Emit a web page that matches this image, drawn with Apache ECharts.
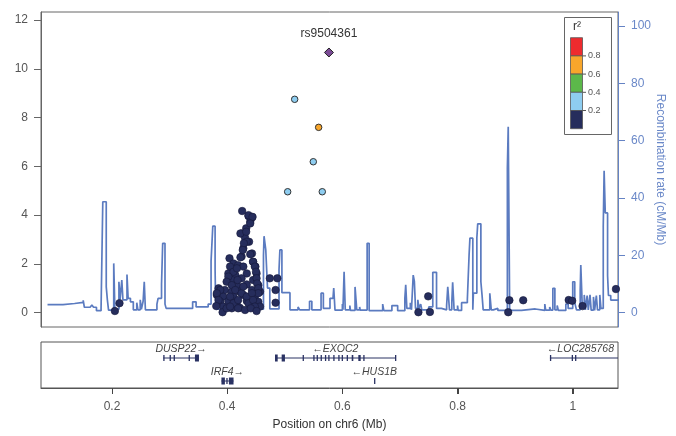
<!DOCTYPE html>
<html><head><meta charset="utf-8">
<script src="https://cdn.jsdelivr.net/npm/echarts@6/dist/echarts.min.js"></script>
<style>html,body{margin:0;padding:0;background:#fff}#c{width:676px;height:436px}</style>
</head><body><div id="c"></div><script>
const xTicks = [0.2, 0.4, 0.6, 0.8, 1.0];
const yTicks = [0, 2, 4, 6, 8, 10, 12];
const rTicks = [0, 20, 40, 60, 80, 100];
const legendBreaks = ['0.8', '0.6', '0.4', '0.2'];
const legendColors = ['#ee2b2e', '#f8a62b', '#5cb84a', '#8ecdf0', '#262d5c'];

const snpNavy = [
[0.426,4.17],[0.437,3.96],[0.443,3.90],[0.440,3.73],[0.425,3.25],[0.433,3.46],[0.431,3.07],[0.438,2.91],[0.428,2.64],[0.443,2.43],[0.425,2.30],[0.404,2.23],[0.445,2.09],[0.411,2.02],[0.419,1.95],[0.428,1.89],[0.449,1.89],[0.402,1.61],[0.414,1.55],[0.434,1.61],[0.451,1.61],[0.408,1.34],[0.425,1.41],[0.445,1.34],[0.417,1.13],[0.434,1.16],[0.454,1.13],[0.385,1.00],[0.396,0.93],[0.408,0.86],[0.422,0.86],[0.443,0.93],[0.457,0.86],[0.382,0.73],[0.393,0.66],[0.411,0.66],[0.428,0.73],[0.448,0.66],[0.388,0.45],[0.402,0.48],[0.417,0.45],[0.434,0.48],[0.454,0.45],[0.393,0.25],[0.408,0.18],[0.422,0.20],[0.440,0.25],[0.457,0.25],[0.392,0.02],
[0.437,4.00],[0.444,3.93],[0.440,3.66],[0.423,3.25],[0.433,3.32],[0.434,2.91],[0.429,2.85],[0.427,2.57],[0.440,2.40],[0.423,2.27],[0.445,2.09],[0.448,1.89],[0.450,1.68],[0.451,1.41],[0.452,1.20],[0.454,1.00],[0.454,0.80],[0.388,0.93],[0.382,0.80],[0.385,0.52],[0.381,0.27],[0.405,1.89],[0.411,1.68],[0.402,1.48],[0.399,1.27],[0.408,1.13],[0.417,1.82],[0.418,1.34],[0.414,0.93],[0.405,0.66],[0.411,0.39],[0.419,0.52],[0.425,0.80],[0.428,1.07],[0.434,0.66],[0.437,0.39],[0.443,0.80],[0.445,0.52],[0.448,0.25],[0.399,0.18],[0.419,0.18],[0.431,0.11],[0.441,0.18],[0.405,0.25],[0.451,0.07],
[0.205,0.07],[0.213,0.39],[0.474,1.41],[0.487,1.41],[0.484,0.93],[0.484,0.41],[0.732,0.02],[0.749,0.67],[0.752,0.03],[0.888,0.02],[0.890,0.51],[0.914,0.51],[0.993,0.52],[0.999,0.49],[1.017,0.27],[1.075,0.97]
];
const snpLightBlue = [[0.5172,8.75],[0.505,4.96],[0.5495,6.19],[0.5651,4.96]];
const snpOrange = [[0.5588,7.6]];
const leadSnp = [[0.5767,10.67]];
const leadName = 'rs9504361';

const recombRate = [
[0.088,2.8],[0.115,2.8],[0.115,3.2],[0.135,3.2],[0.135,3.6],[0.150,3.6],[0.150,4.3],[0.152,4.3],[0.152,1.9],[0.162,1.9],[0.162,1.3],[0.165,1.3],[0.165,2.7],[0.168,2.7],[0.168,1.9],[0.173,1.9],[0.173,0.7],[0.181,0.7],[0.181,1.5],[0.184,1.5],[0.184,38.7],[0.190,38.7],[0.190,9.0],[0.192,9.0],[0.192,4.4],[0.194,4.4],[0.194,0.9],[0.203,0.9],[0.203,17.2],[0.205,17.2],[0.205,1.2],[0.212,1.2],[0.212,10.8],[0.214,10.8],[0.214,4.5],[0.217,4.5],[0.217,11.4],[0.219,11.4],[0.219,4.5],[0.226,4.5],[0.226,13.3],[0.228,13.3],[0.228,5.0],[0.232,5.0],[0.232,3.8],[0.237,3.8],[0.237,1.0],[0.243,1.0],[0.243,3.5],[0.245,3.5],[0.245,1.0],[0.249,1.0],[0.249,4.5],[0.251,4.5],[0.251,1.2],[0.254,1.2],[0.254,4.0],[0.256,4.0],[0.256,10.8],[0.258,10.8],[0.258,1.0],[0.278,1.0],[0.278,3.0],[0.280,3.0],[0.280,5.0],[0.286,5.0],[0.286,10.0],[0.288,10.0],[0.288,24.2],[0.292,24.2],[0.292,3.0],[0.294,3.0],[0.294,1.5],[0.340,1.5],[0.340,3.8],[0.346,3.8],[0.346,2.0],[0.367,2.0],[0.367,3.0],[0.372,3.0],[0.372,18],[0.375,18],[0.375,30.2],[0.379,30.2],[0.379,15],[0.380,15],[0.380,2.0],[0.381,2.0],[0.381,1.2],[0.463,1.2],[0.463,20],[0.464,20],[0.464,26.7],[0.467,26.7],[0.467,21.9],[0.470,21.9],[0.470,8.6],[0.474,8.6],[0.474,1.3],[0.490,1.3],[0.490,15],[0.4915,15],[0.4915,21.9],[0.495,21.9],[0.495,7.0],[0.509,7.0],[0.509,1.0],[0.523,1.0],[0.523,2.0],[0.526,2.0],[0.526,1.0],[0.543,1.0],[0.543,4.0],[0.547,4.0],[0.547,1.0],[0.563,1.0],[0.563,6.8],[0.567,6.8],[0.567,1.5],[0.5785,1.5],[0.5785,5.0],[0.5837,5.0],[0.5837,4.4],[0.5850,4.4],[0.5850,8.6],[0.5872,8.6],[0.5872,0.9],[0.600,0.9],[0.600,3.0],[0.601,3.0],[0.601,1.0],[0.603,1.0],[0.603,14.3],[0.605,14.3],[0.605,1.0],[0.613,1.0],[0.613,2.5],[0.614,2.5],[0.614,0.8],[0.622,0.8],[0.622,9.0],[0.625,9.0],[0.625,1.0],[0.630,1.0],[0.630,2.0],[0.631,2.0],[0.631,0.9],[0.643,0.9],[0.643,24.2],[0.6465,24.2],[0.6465,0.7],[0.670,0.7],[0.670,3.0],[0.672,3.0],[0.672,0.7],[0.686,0.7],[0.686,2.5],[0.696,2.5],[0.696,0.7],[0.7085,0.7],[0.7085,5.0],[0.710,5.0],[0.710,9.7],[0.712,9.7],[0.712,1.5],[0.718,1.5],[0.718,3.5],[0.720,3.5],[0.720,1.0],[0.723,1.0],[0.723,13.1],[0.725,13.1],[0.725,11.0],[0.727,11.0],[0.727,1.5],[0.731,1.5],[0.731,4.5],[0.733,4.5],[0.733,1.5],[0.736,1.5],[0.736,3.0],[0.738,3.0],[0.738,1.0],[0.750,1.0],[0.750,2.0],[0.757,2.0],[0.757,14.1],[0.7635,14.1],[0.7635,1.5],[0.772,1.5],[0.772,1.0],[0.781,1.0],[0.781,2.5],[0.783,2.5],[0.783,9.0],[0.786,9.0],[0.786,1.0],[0.790,1.0],[0.790,3.5],[0.7915,3.5],[0.7915,10.6],[0.794,10.6],[0.794,1.0],[0.800,1.0],[0.800,2.5],[0.801,2.5],[0.801,0.8],[0.807,0.8],[0.807,3.5],[0.817,3.5],[0.817,4.5],[0.820,4.5],[0.820,20],[0.8215,20],[0.8215,26.0],[0.8265,26.0],[0.8265,1.0],[0.8275,1.0],[0.8275,6.8],[0.8335,6.8],[0.8335,26],[0.835,26],[0.835,31.0],[0.8405,31.0],[0.8405,10.8],[0.8425,10.8],[0.8425,6.2],[0.8445,6.2],[0.8445,1.0],[0.856,1.0],[0.856,6.8],[0.8585,6.8],[0.8585,1.0],[0.862,1.0],[0.862,1.5],[0.870,1.5],[0.870,0.8],[0.8865,0.8],[0.8865,50.4],[0.888,50.4],[0.888,64.9],[0.8905,64.9],[0.8905,0.8],[0.911,0.8],[0.911,1.3],[0.935,1.3],[0.935,0.8],[0.9515,0.8],[0.9515,3.0],[0.953,3.0],[0.953,0.9],[0.960,0.9],[0.960,2.0],[0.962,2.0],[0.962,0.9],[0.9655,0.9],[0.9655,8.5],[0.969,8.5],[0.969,1.0],[0.973,1.0],[0.973,2.5],[0.975,2.5],[0.975,0.8],[0.988,0.8],[0.988,3.0],[0.992,3.0],[0.992,1.5],[1.000,1.5],[1.000,10.8],[1.0035,10.8],[1.0035,3.5],[1.0065,3.5],[1.0065,1.0],[1.013,1.0],[1.013,8.0],[1.014,8.0],[1.014,16.6],[1.0165,16.6],[1.0165,2.5],[1.020,2.5],[1.020,6.2],[1.022,6.2],[1.022,1.0],[1.025,1.0],[1.025,6.0],[1.027,6.0],[1.027,1.0],[1.030,1.0],[1.030,6.2],[1.032,6.2],[1.032,0.9],[1.036,0.9],[1.036,5.5],[1.038,5.5],[1.038,0.8],[1.041,0.8],[1.041,6.0],[1.043,6.0],[1.043,1.0],[1.047,1.0],[1.047,6.2],[1.049,6.2],[1.049,1.5],[1.053,1.5],[1.053,30],[1.0545,30],[1.0545,49.5],[1.0565,49.5],[1.0565,34.8],[1.0605,34.8],[1.0605,13.0],[1.062,13.0],[1.062,6.0],[1.066,6.0],[1.066,4.4],[1.080,4.4]
];

const geneNames = ['DUSP22', 'IRF4', 'EXOC2', 'HUS1B', 'LOC285768'];
const geneStart = [0.289, 0.390, 0.483, 0.6550, 0.9604];
const geneEnd = [0.351, 0.411, 0.6926, 0.6558, 1.15];
const geneStrand = ['+', '+', '-', '-', '-'];
const geneRow = [0, 1, 0, 1, 0];
const geneExons = [
  [[0.289,0.2902],[0.300,0.3012],[0.307,0.3082],[0.333,0.3342],[0.344,0.351]],
  [[0.390,0.396],[0.3985,0.3998],[0.403,0.411]],
  [[0.483,0.4877],[0.4946,0.5003],[0.531,0.5322],[0.5495,0.5507],[0.5553,0.5565],[0.5622,0.5634],[0.5697,0.5709],[0.5755,0.5767],[0.5842,0.5854],[0.5929,0.5941],[0.5988,0.600],[0.6075,0.6087],[0.6162,0.619],[0.6277,0.6318],[0.6363,0.6375],[0.6914,0.6926]],
  [[0.6550,0.6558]],
  [[0.9604,0.9616],[0.9982,0.9994],[1.004,1.0052]]
];

const X_MIN = 0.0767, X_MAX = 1.0786;
const GENE_COLOR = '#2a3263';
const FONT = '"Liberation Sans", Arial, sans-serif';

const chart = echarts.init(document.getElementById('c'), null, {renderer: 'canvas'});
const measure = document.createElement('canvas').getContext('2d');
measure.font = 'italic 10.5px ' + FONT;

const option = {
  animation: false,
  backgroundColor: '#fff',
  grid: [
    {left: 41, right: 58, top: 12, bottom: 109, show: true, borderColor: '#666', borderWidth: 1, outerBoundsMode: 'none', containLabel: false},
    {left: 41, right: 58, top: 342, bottom: 48, show: true, borderColor: '#555', borderWidth: 1, outerBoundsMode: 'none', containLabel: false}
  ],
  xAxis: [
    {type: 'value', gridIndex: 0, min: X_MIN, max: X_MAX, show: false},
    {type: 'value', gridIndex: 1, min: X_MIN, max: X_MAX, position: 'bottom',
     axisLine: {show: true, onZero: false, lineStyle: {color: '#555'}},
     axisTick: {show: true, inside: false, length: 6, lineStyle: {color: '#444', width: 1}, customValues: xTicks},
     axisLabel: {customValues: xTicks, color: '#555', fontSize: 12, fontFamily: FONT, margin: 13},
     splitLine: {show: false},
     name: 'Position on chr6 (Mb)', nameLocation: 'middle', nameGap: 31,
     nameTextStyle: {color: '#333', fontSize: 12, fontFamily: FONT}}
  ],
  yAxis: [
    {type: 'value', gridIndex: 0, min: -0.586, max: 12.33, position: 'left',
     axisLine: {show: true, onZero: false, lineStyle: {color: '#666'}},
     axisTick: {show: true, length: 7, lineStyle: {color: '#666'}, customValues: yTicks},
     axisLabel: {customValues: yTicks, color: '#555', fontSize: 12, fontFamily: FONT, margin: 13},
     splitLine: {show: false}},
    {type: 'value', gridIndex: 0, min: -4.99, max: 104.9, position: 'right',
     axisLine: {show: true, onZero: false, lineStyle: {color: '#6583c4'}},
     axisTick: {show: true, length: 7, lineStyle: {color: '#6583c4'}, customValues: rTicks},
     axisLabel: {customValues: rTicks, color: '#6a88c8', fontSize: 12, fontFamily: FONT, margin: 13},
     splitLine: {show: false},
     name: 'Recombination rate (cM/Mb)', nameLocation: 'middle', nameRotate: -90, nameGap: 36, nameMoveOverlap: false,
     nameTextStyle: {color: '#6a88c8', fontSize: 12, fontFamily: FONT}},
    {type: 'value', gridIndex: 1, min: -0.696, max: 1.304, inverse: true, show: false}
  ],
  graphic: (function () {
    const els = [];
    els.push({type: 'rect', shape: {x: 564.5, y: 17.5, width: 47, height: 117}, style: {fill: '#fff', stroke: '#666', lineWidth: 1}, z: 100});
    els.push({type: 'text', x: 577, y: 27, style: {text: 'r\u00B2', align: 'center', verticalAlign: 'middle', fontSize: 12, fontFamily: FONT, fill: '#333'}, z: 101});
    const top = 37.7, h = 18.2;
    legendColors.forEach((c, i) => {
      els.push({type: 'rect', shape: {x: 570.5, y: top + i * h, width: 12, height: h}, style: {fill: c, stroke: '#555', lineWidth: 0.8}, z: 101});
    });
    legendBreaks.forEach((t, i) => {
      const y = top + (i + 1) * h;
      els.push({type: 'line', shape: {x1: 582.5, y1: y, x2: 586, y2: y}, style: {stroke: '#555', lineWidth: 1}, z: 101});
      els.push({type: 'text', x: 588, y: y, style: {text: t, align: 'left', verticalAlign: 'middle', fontSize: 9, fontFamily: FONT, fill: '#555'}, z: 101});
    });
    return els;
  })(),
  series: [
    {type: 'line', xAxisIndex: 0, yAxisIndex: 1, data: recombRate, showSymbol: false, symbol: 'none',
     lineStyle: {color: '#5b7bc0', width: 1.7}, z: 2, silent: true},
    {type: 'scatter', xAxisIndex: 0, yAxisIndex: 0, data: snpNavy, symbolSize: 7.5,
     itemStyle: {color: '#262d5c', borderColor: '#151a3a', borderWidth: 0.6, opacity: 1}, z: 3},
    {type: 'scatter', xAxisIndex: 0, yAxisIndex: 0, data: snpLightBlue, symbolSize: 6.5,
     itemStyle: {color: '#8ecdf0', borderColor: '#333', borderWidth: 1, opacity: 1}, z: 4},
    {type: 'scatter', xAxisIndex: 0, yAxisIndex: 0, data: snpOrange, symbolSize: 6.5,
     itemStyle: {color: '#f8a62b', borderColor: '#333', borderWidth: 1, opacity: 1}, z: 4},
    {type: 'scatter', xAxisIndex: 0, yAxisIndex: 0, data: leadSnp, symbol: 'diamond', symbolSize: 9,
     itemStyle: {color: '#7b4b96', borderColor: '#222', borderWidth: 1, opacity: 1}, z: 5,
     label: {show: true, position: 'top', distance: 8, formatter: leadName, color: '#333', fontSize: 12, fontFamily: FONT}},
    {type: 'custom', xAxisIndex: 1, yAxisIndex: 2, silent: true, clip: false, z: 10,
     data: xTicks.map(v => [v, 0]),
     renderItem: function (params, api) {
       const cs = params.coordSys;
       const x = Math.round(api.coord([api.value(0), 0])[0]) + 0.5;
       const yb = cs.y + cs.height;
       return {type: 'line', shape: {x1: x, y1: yb, x2: x, y2: yb + 6}, style: {stroke: '#444', lineWidth: 1}};
     }},
    {type: 'custom', xAxisIndex: 1, yAxisIndex: 2, silent: true,
     data: geneNames.map((n, i) => [geneStart[i], geneRow[i], i]),
     renderItem: function (params, api) {
       const i = api.value(2);
       const row = geneRow[i];
       const cs = params.coordSys;
       const xr = cs.x + cs.width;
       const p0 = api.coord([geneStart[i], row]);
       const p1 = api.coord([geneEnd[i], row]);
       const y = p0[1];
       const x1 = Math.max(p0[0], cs.x), x2 = Math.min(p1[0], xr);
       const children = [];
       if (x2 - x1 > 1) {
         children.push({type: 'line', shape: {x1: x1, y1: y, x2: x2, y2: y}, style: {stroke: GENE_COLOR, lineWidth: 1}});
       }
       geneExons[i].forEach(e => {
         const a = api.coord([e[0], row])[0], b = api.coord([e[1], row])[0];
         const w = Math.max(b - a, 1.3);
         const hh = (b - a) > 2.5 ? 7 : 6;
         children.push({type: 'rect', shape: {x: a, y: y - hh / 2, width: w, height: hh}, style: {fill: GENE_COLOR}});
       });
       const label = geneStrand[i] === '+' ? geneNames[i] + '\u2192' : '\u2190' + geneNames[i];
       const tw = measure.measureText(label).width;
       let cx = (x1 + x2) / 2;
       if (cx + tw / 2 > xr - 4) cx = xr - 4 - tw / 2;
       if (cx - tw / 2 < cs.x + 4) cx = cs.x + 4 + tw / 2;
       children.push({type: 'text', x: cx, y: y - 9,
         style: {text: label, align: 'center', verticalAlign: 'middle', fontSize: 10.5, fontStyle: 'italic', fontFamily: FONT, fill: '#444'}});
       return {type: 'group', children: children};
     }}
  ]
};
chart.setOption(option);
</script></body></html>
